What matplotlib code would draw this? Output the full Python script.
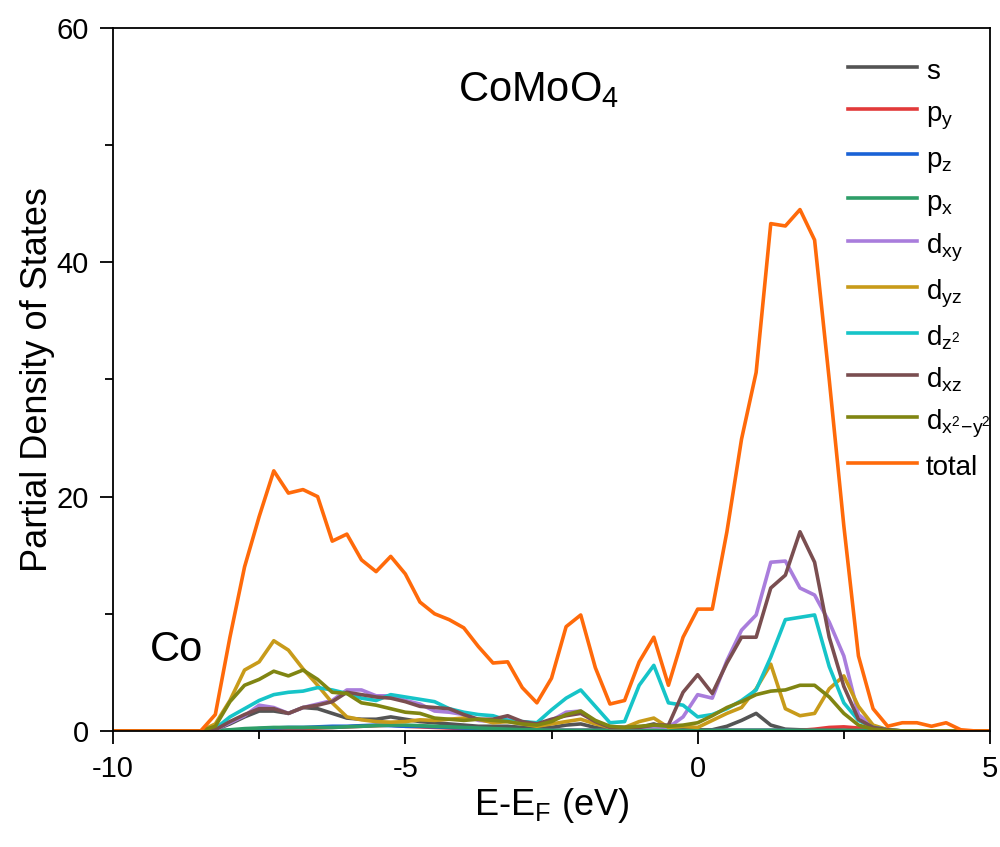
import numpy as np
import matplotlib
matplotlib.use('Agg')
import matplotlib.pyplot as plt

plt.rcParams['font.family'] = ['Liberation Sans', 'DejaVu Sans']
plt.rcParams['mathtext.fontset'] = 'custom'
plt.rcParams['mathtext.rm'] = 'Liberation Sans'
plt.rcParams['mathtext.it'] = 'Liberation Sans'
plt.rcParams['mathtext.bf'] = 'Liberation Sans:bold'
plt.rcParams['axes.unicode_minus'] = False

# energy grid (eV), step 0.25 from -10 to 5
energy = np.linspace(-10, 5, 61)

s = [0, 0, 0, 0, 0, 0, 0, 0.1, 0.6, 1.2, 1.7, 1.7, 1.5, 2.0, 1.9, 1.5, 1.1, 1.0, 1.0, 1.2,
     1.0, 0.8, 0.7, 0.6, 0.5, 0.4, 0.4, 0.4, 0.3, 0.2, 0.3, 0.5, 0.6, 0.3, 0.1, 0.1, 0.3, 0.6, 0.2, 0.1,
     0.1, 0.1, 0.4, 0.9, 1.5, 0.5, 0.15, 0.1, 0.1, 0.1, 0.05, 0, 0, 0, 0, 0, 0, 0, 0, 0, 0]
py = [0, 0, 0, 0, 0, 0, 0, 0, 0.05, 0.1, 0.15, 0.15, 0.2, 0.2, 0.25, 0.3, 0.35, 0.4, 0.45, 0.5,
      0.4, 0.35, 0.3, 0.25, 0.2, 0.2, 0.15, 0.1, 0.05, 0.05, 0.05, 0.05, 0.05, 0.05, 0.05, 0.05, 0.05, 0.05, 0.05, 0.05,
      0.05, 0.05, 0.05, 0.05, 0.05, 0.05, 0.05, 0.05, 0.15, 0.3, 0.35, 0.25, 0.1, 0.05, 0, 0, 0, 0, 0, 0, 0]
pz = [0, 0, 0, 0, 0, 0, 0, 0, 0.05, 0.1, 0.2, 0.25, 0.3, 0.3, 0.35, 0.4, 0.4, 0.45, 0.5, 0.45,
      0.4, 0.4, 0.35, 0.3, 0.25, 0.2, 0.15, 0.1, 0.05, 0.05, 0.05, 0.05, 0.05, 0.05, 0.03, 0.03, 0.03, 0.03, 0.03, 0.03,
      0.03, 0.05, 0.05, 0.05, 0.05, 0.05, 0.05, 0.03, 0.03, 0.03, 0.03, 0, 0, 0, 0, 0, 0, 0, 0, 0, 0]
px = [0, 0, 0, 0, 0, 0, 0, 0, 0.1, 0.2, 0.25, 0.3, 0.3, 0.3, 0.3, 0.3, 0.35, 0.4, 0.45, 0.5,
      0.5, 0.45, 0.4, 0.35, 0.3, 0.25, 0.2, 0.15, 0.1, 0.1, 0.05, 0.05, 0.05, 0.05, 0.05, 0.05, 0.05, 0.05, 0.05, 0.05,
      0.05, 0.05, 0.05, 0.05, 0.05, 0.05, 0.05, 0.05, 0.05, 0.05, 0.05, 0.05, 0.05, 0, 0, 0, 0, 0, 0, 0, 0]
dxy = [0, 0, 0, 0, 0, 0, 0, 0.1, 0.7, 1.3, 2.2, 2.0, 1.5, 2.0, 2.3, 2.6, 3.5, 3.5, 3.0, 3.0,
       2.6, 2.3, 1.7, 1.6, 1.4, 0.9, 0.8, 1.1, 0.7, 0.5, 0.9, 1.6, 1.7, 0.8, 0.3, 0.3, 0.3, 0.4, 0.3, 1.2,
       3.1, 2.8, 6.0, 8.6, 9.9, 14.4, 14.5, 12.2, 11.6, 9.3, 6.4, 1.4, 0.4, 0.1, 0, 0, 0, 0, 0, 0, 0]
dyz = [0, 0, 0, 0, 0, 0, 0, 0.6, 2.6, 5.2, 5.9, 7.7, 6.9, 5.3, 3.9, 2.4, 1.2, 0.95, 0.8, 0.75,
       0.8, 0.95, 0.9, 1.0, 1.1, 1.0, 0.7, 0.8, 0.6, 0.4, 0.6, 0.8, 1.0, 0.6, 0.3, 0.3, 0.8, 1.1, 0.3, 0.4,
       0.3, 0.9, 1.5, 2.0, 3.6, 5.7, 1.9, 1.3, 1.5, 3.6, 4.7, 2.1, 0.5, 0.1, 0, 0, 0, 0, 0, 0, 0]
dz2 = [0, 0, 0, 0, 0, 0, 0, 0.2, 1.2, 1.9, 2.6, 3.1, 3.3, 3.4, 3.7, 3.5, 3.2, 2.8, 2.6, 3.1,
       2.9, 2.7, 2.5, 1.9, 1.6, 1.4, 1.3, 0.9, 0.8, 0.7, 1.8, 2.8, 3.5, 2.1, 0.7, 0.8, 3.9, 5.6, 2.4, 2.2,
       1.2, 1.4, 1.9, 2.6, 3.5, 6.3, 9.5, 9.7, 9.9, 5.5, 2.4, 0.9, 0.3, 0.1, 0, 0, 0, 0, 0, 0, 0]
dxz = [0, 0, 0, 0, 0, 0, 0, 0.1, 0.8, 1.4, 1.9, 1.9, 1.5, 2.0, 2.2, 2.5, 3.3, 3.1, 2.9, 2.8,
       2.5, 2.1, 2.0, 1.9, 1.4, 1.0, 1.0, 1.3, 0.8, 0.6, 1.0, 1.3, 1.5, 0.8, 0.3, 0.3, 0.3, 0.5, 0.5, 3.3,
       4.8, 3.2, 5.8, 8.0, 8.0, 12.2, 13.3, 17.0, 14.4, 8.0, 3.8, 1.0, 0.3, 0.1, 0, 0, 0, 0, 0, 0, 0]
dx2y2 = [0, 0, 0, 0, 0, 0, 0, 0.4, 2.5, 3.9, 4.4, 5.1, 4.7, 5.2, 4.4, 3.3, 3.2, 2.4, 2.2, 1.9,
         1.6, 1.5, 1.1, 1.0, 0.9, 1.0, 0.9, 0.8, 0.6, 0.5, 0.8, 1.4, 1.7, 0.9, 0.4, 0.3, 0.4, 0.5, 0.4, 0.5,
         0.7, 1.3, 2.0, 2.5, 3.1, 3.4, 3.5, 3.9, 3.9, 2.9, 1.5, 0.5, 0.15, 0.05, 0, 0, 0, 0, 0, 0, 0]
total = [0, 0, 0, 0, 0, 0, 0, 1.4, 8.0, 14.0, 18.3, 22.2, 20.3, 20.6, 20.0, 16.2, 16.8, 14.6, 13.6, 14.9,
         13.4, 11.0, 10.0, 9.5, 8.8, 7.2, 5.8, 5.9, 3.7, 2.4, 4.5, 8.9, 9.9, 5.4, 2.3, 2.6, 5.9, 8.0, 3.9, 8.0,
         10.4, 10.4, 17.0, 24.9, 30.6, 43.3, 43.1, 44.5, 41.9, 30.0, 17.5, 6.4, 1.9, 0.4, 0.7, 0.7, 0.4, 0.7, 0.1, 0, 0]

series = [s, py, pz, px, dxy, dyz, dz2, dxz, dx2y2, total]
labels = ['s', r'$\mathrm{p_y}$', r'$\mathrm{p_z}$', r'$\mathrm{p_x}$', r'$\mathrm{d_{xy}}$',
          r'$\mathrm{d_{yz}}$', r'$\mathrm{d_{z^2}}$', r'$\mathrm{d_{xz}}$', r'$\mathrm{d_{x^2\!-\!y^2}}$', 'total']
colors = ['#545454', '#e23a3a', '#1a62d6', '#2e9e68', '#a97ddc', '#c89b1a', '#16c4c8', '#7a4e50', '#808512', '#ff6a0a']

fig = plt.figure(figsize=(10, 8.47), dpi=100)
ax = fig.add_axes([0.113, 0.137, 0.877, 0.830])

for y, lab, c in zip(series, labels, colors):
    ax.plot(energy, y, color=c, lw=2.6, label=lab)

ax.set_xlim(-10, 5)
ax.set_ylim(0, 60)
ax.set_xticks([-10, -5, 0, 5])
ax.set_xticks([-7.5, -2.5, 2.5], minor=True)
ax.set_yticks([0, 20, 40, 60])
ax.set_yticks([10, 30, 50], minor=True)
ax.tick_params(which='major', direction='out', length=9.5, width=1.3, labelsize=21, pad=8)
ax.tick_params(which='minor', direction='out', length=5.5, width=1.3)
for sp in ax.spines.values():
    sp.set_linewidth(1.3)

ax.set_xlabel(r'E-E$_\mathrm{F}$ (eV)', fontsize=26, labelpad=2)
ax.set_ylabel('Partial Density of States', fontsize=26, labelpad=1)

ax.text(0.393, 0.912, r'CoMoO$_4$', transform=ax.transAxes, fontsize=30, ha='left', va='center')
ax.text(0.042, 0.115, 'Co', transform=ax.transAxes, fontsize=30, ha='left', va='center')

ax.legend(loc='upper left', bbox_to_anchor=(0.848, 1 - 54 / 847), bbox_transform=fig.transFigure,
          frameon=False, fontsize=20, handlelength=2.5, handletextpad=0.3, handleheight=1.4,
          labelspacing=0.36, borderpad=0, borderaxespad=0)

fig.savefig('out.png', dpi=100)
